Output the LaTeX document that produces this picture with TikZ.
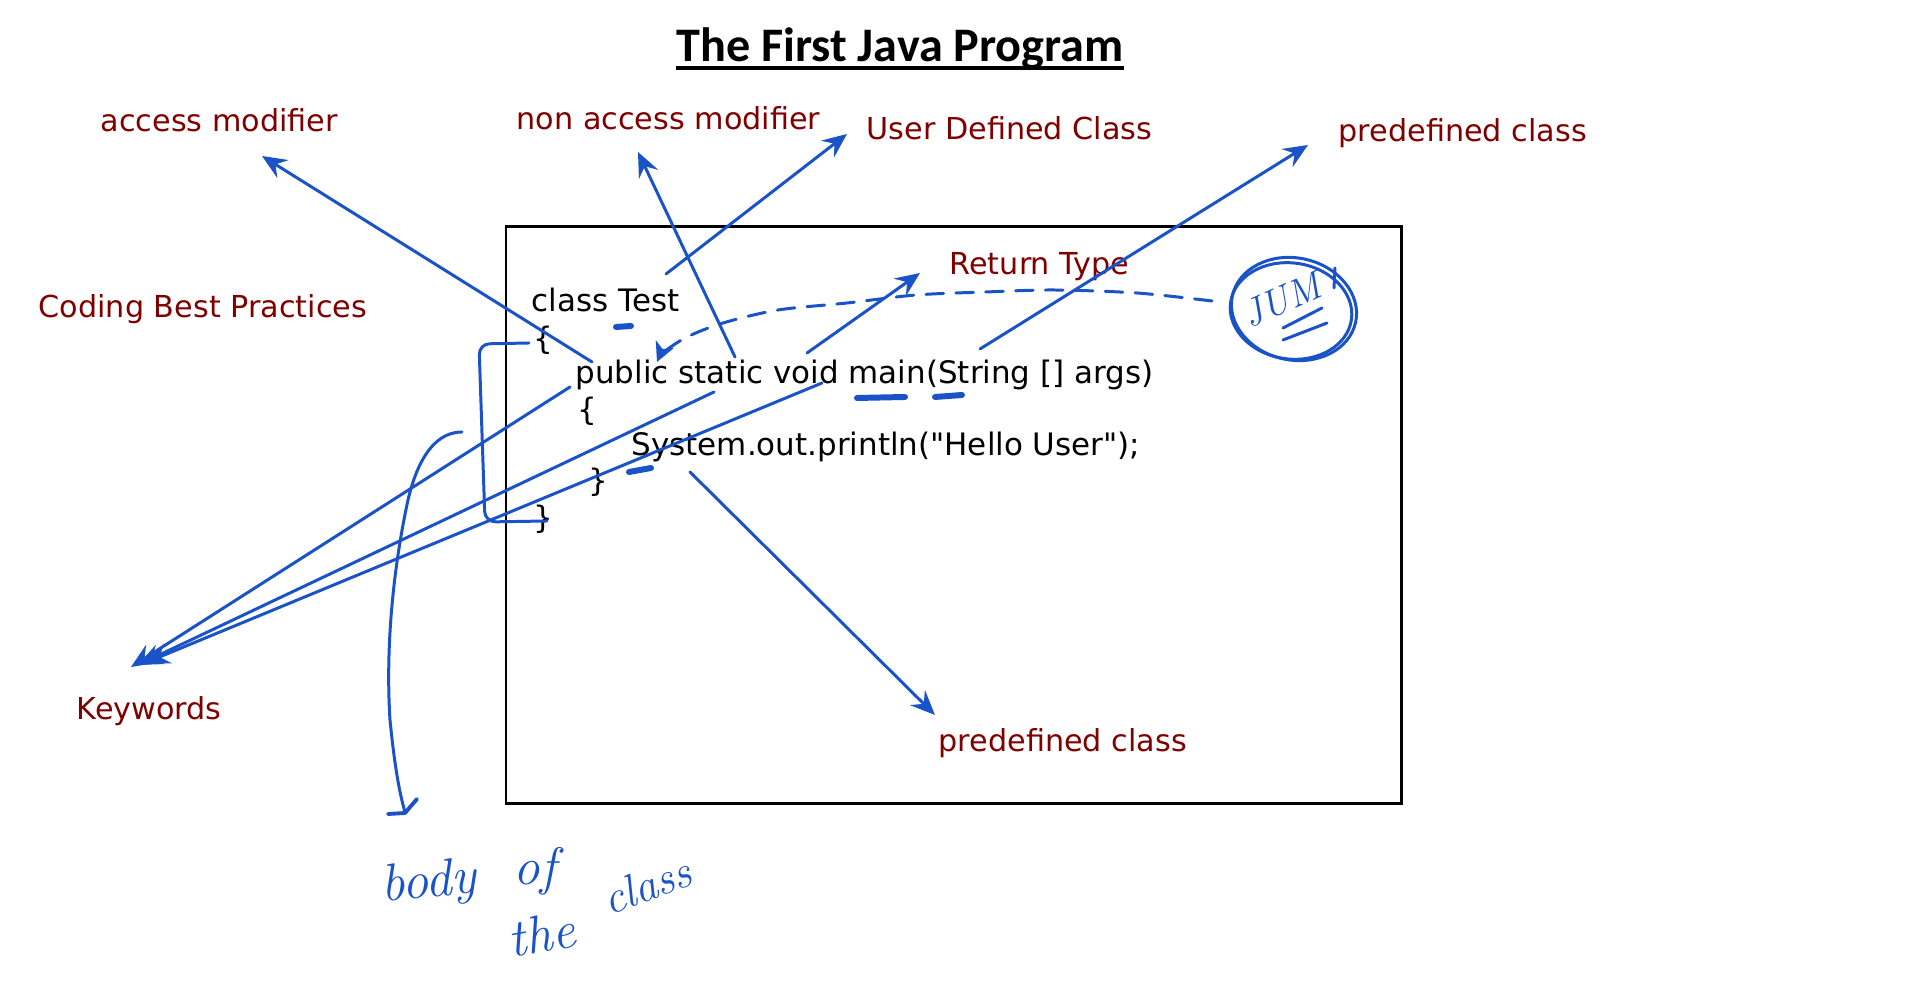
\documentclass[tikz,border=0pt]{standalone}
\usepackage{fontspec}
\newfontfamily\djv{DejaVu Sans}
\newfontfamily\ttl{Carlito}
\usetikzlibrary{arrows.meta}
\definecolor{labred}{RGB}{128,0,0}
\definecolor{penblue}{RGB}{26,82,200}
\begin{document}
\begin{tikzpicture}[x=0.01cm,y=-0.01cm,
  lbl/.style={anchor=base west,inner sep=0pt,text=labred,font=\djv\fontsize{8.6}{10}\selectfont},
  code/.style={anchor=base west,inner sep=0pt,font=\djv\fontsize{8.8}{10}\selectfont},
  pen/.style={draw=penblue,line width=0.85pt,line cap=round,line join=round},
  arr/.style={pen,-{Stealth[length=7pt,width=6pt,inset=2.5pt]}},
  hand/.style={text=penblue,inner sep=0pt,anchor=base,font=\itshape\fontsize{15}{18}\selectfont},
  mark2/.style={pen,line width=1.7pt}
]
\useasboundingbox (0,0) rectangle (1920,1001);

% title
\node[inner sep=0pt,anchor=base,font=\ttl\bfseries\fontsize{13.7}{16}\selectfont] (title) at (900,62) {The First Java Program};
\draw[line width=1.1pt] ([yshift=-1.8pt]title.base west) -- ([yshift=-1.8pt]title.base east);

% code box
\draw[line width=0.85pt] (506,227) rectangle (1401,804);

% labels
\node[lbl] (am)  at (100,132) {access modifier};
\node[lbl] (nam) at (516,130) {non access modifier};
\node[lbl] (udc) at (866,140) {User Defined Class};
\node[lbl] (pc1) at (1338,142) {predefined class};
\node[lbl] (cbp) at (38,318) {Coding Best Practices};
\node[lbl] (rt)  at (949,275) {Return Type};
\node[lbl] (kw)  at (76,720) {Keywords};
\node[lbl] (pc2) at (938,752) {predefined class};

% code
\node[code] (l1) at (531,312) {class Test};
\node[code] (l2) at (533,350) {\{};
\node[code] (l3) at (575,384) {public static void main(String [] args)};
\node[code] (l4) at (577,421) {\{};
\node[code] (l5) at (631,456) {System.out.println("Hello User");};
\node[code] (l6) at (588,492) {\}};
\node[code] (l7) at (533,529) {\}};

% arrow end points
\coordinate (amS) at (592,362);  \coordinate (amT) at (262,156);
\coordinate (namS) at (735,357); \coordinate (namT) at (638,152);
\coordinate (udcS) at (666,274); \coordinate (udcT) at (847,134);
\coordinate (rtS) at (807,353);  \coordinate (rtT) at (920,273);
\coordinate (pc1S) at (980,349); \coordinate (pc1T) at (1308,145);
\coordinate (pc2S) at (690,472); \coordinate (pc2T) at (935,715);
\coordinate (kwAS) at (570,387); \coordinate (kwAT) at (131,667);
\coordinate (kwBS) at (714,392); \coordinate (kwBT) at (138,665);
\coordinate (kwCS) at (822,383); \coordinate (kwCT) at (145,663);

\draw[arr] (amS) -- (amT);
\draw[arr] (namS) -- (namT);
\draw[arr] (udcS) -- (udcT);
\draw[arr] (rtS) -- (rtT);
\draw[arr] (pc1S) -- (pc1T);
\draw[arr] (pc2S) -- (pc2T);
\draw[arr] (kwAS) -- (kwAT);
\draw[arr] (kwBS) -- (kwBT);
\draw[arr] (kwCS) -- (kwCT);

% bracket around class body
\draw[pen,rounded corners=3pt] (529,343) -- (479,344) -- (485,522) -- (547,521);

% body of the class curve
\draw[pen] (462,432) .. controls (430,432) and (415,470) .. (408,500)
  .. controls (395,560) and (385,640) .. (390,720)
  .. controls (395,770) and (400,795) .. (405,812);
\draw[pen,line width=1.1pt] (388,814) -- (405,813) -- (417,799);

% emphasis marks
\draw[mark2] (616,327) -- (631,326);
\draw[mark2] (857,398) -- (905,397);
\draw[mark2] (935,397) -- (962,395);
\draw[mark2] (629,472) -- (651,468);

% dashed jump curve
\draw[pen,dash pattern=on 5pt off 3.5pt,-{Stealth[length=5.5pt,width=5.5pt,inset=1.5pt]}]
  plot[smooth] coordinates {(1212,301) (1137,293) (1054,290) (985,292) (916,295) (847,303) (778,310) (723,323) (687,337) (664,352) (657,362)};

% JUMP circle
\draw[pen] (1291,311) ellipse [x radius=0.61cm,y radius=0.48cm,rotate=-8];
\draw[pen] (1294,309) ellipse [x radius=0.63cm,y radius=0.51cm,rotate=-12];
\draw[pen] (1335,268) -- (1334,288);
\node[hand,font=\itshape\fontsize{11}{13}\selectfont,rotate=24] (jump) at (1287,312) {JUM};
\draw[pen] (1283,328) -- (1322,308);
\draw[pen] (1283,340) -- (1327,323);

% handwritten note
\node[hand,rotate=5] (h1) at (430,897) {body};
\node[hand] (h2) at (535,885) {of};
\node[hand,rotate=10] (h3) at (545,952) {the};
\node[hand,rotate=20,font=\itshape\fontsize{13}{15}\selectfont] (h4) at (652,900) {class};
\end{tikzpicture}
\end{document}
